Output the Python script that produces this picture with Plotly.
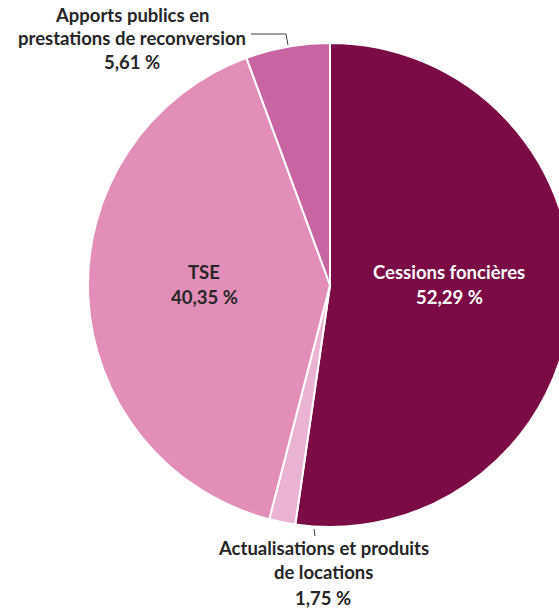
import plotly.graph_objects as go

# ---- data ----
categories = ["Cessions foncières",
              "Actualisations et produits de locations",
              "TSE",
              "Apports publics en prestations de reconversion"]
values = [52.29, 1.75, 40.35, 5.61]
colors = ["#7A0B45", "#EBB3D3", "#E38DB9", "#C764A1"]

# label lines (name parts) for each category
label_lines = [["Cessions foncières"],
               ["Actualisations et produits", "de locations"],
               ["TSE"],
               ["Apports publics en", "prestations de reconversion"]]

def fmt(v):
    return f"{v:.2f}".replace(".", ",") + " %"

# ---- geometry (pixels) ----
W, H = 600, 609
CX, CY, R = 330, 285, 242

def px(x):
    return x / W

def py(y):
    return 1 - y / H

fig = go.Figure(go.Pie(
    labels=categories,
    values=values,
    sort=False,
    direction="clockwise",
    rotation=0,
    marker=dict(colors=colors, line=dict(color="white", width=2)),
    textinfo="none",
    hoverinfo="label+percent",
    showlegend=False,
    domain=dict(x=[px(CX - R), px(CX + R)], y=[py(CY + R), py(CY - R)]),
))

# label placement (pixel centres of each text line)
label_pos = [
    (449, [272, 297], "white"),
    (323, [548, 572, 598], "#262626"),
    (204, [272, 297], "#262626"),
    (132, [15, 38, 62], "#262626"),
]

annotations = []
for lines, v, (x, ys, col) in zip(label_lines, values, label_pos):
    texts = lines + [fmt(v)]
    for t, y in zip(texts, ys):
        annotations.append(dict(
            x=px(x), y=py(y), xref="paper", yref="paper",
            text=t, showarrow=False, xanchor="center", yanchor="middle",
            font=dict(family="Lato", size=18.5, color=col, weight="bold"),
        ))

# leader lines
shapes = [
    dict(type="path", xref="paper", yref="paper",
         path=f"M {px(251)} {py(34)} L {px(286)} {py(34)} L {px(288)} {py(45)}",
         line=dict(color="#404040", width=1)),
    dict(type="line", xref="paper", yref="paper",
         x0=px(314), y0=py(529), x1=px(315), y1=py(536),
         line=dict(color="#404040", width=1)),
]

fig.update_layout(
    width=W, height=H,
    margin=dict(l=0, r=0, t=0, b=0),
    paper_bgcolor="white",
    plot_bgcolor="white",
    annotations=annotations,
    shapes=shapes,
)

fig.write_html("out.html",
               config={"displayModeBar": False},
               post_script="document.body.style.margin='0';document.body.style.overflow='hidden';document.documentElement.style.overflow='hidden';")
